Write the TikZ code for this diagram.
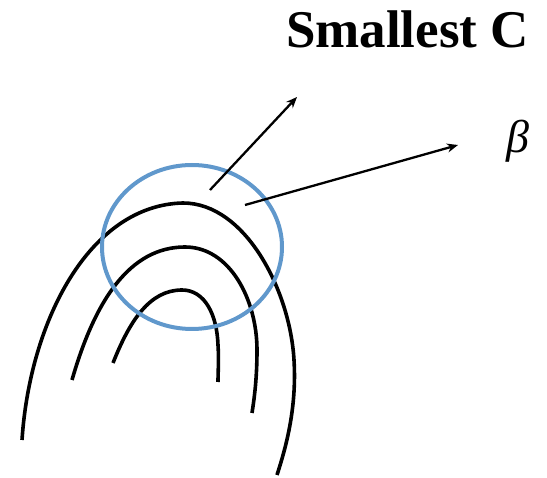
\documentclass[tikz,border=0pt]{standalone}
\usepackage{fontspec}
\setmainfont{Liberation Serif}
\usetikzlibrary{arrows.meta,shapes.geometric}
\definecolor{cblue}{RGB}{96,152,204}
\begin{document}
\begin{tikzpicture}[x=1pt,y=-1pt,
  arc/.style={line width=3.6pt,line cap=butt},
  vec/.style={line width=2.3pt,-{Stealth[length=11pt,width=9pt]}}]
\useasboundingbox (0,0) rectangle (547,478);
\draw[arc] (22,440) .. controls (30,320) and (90,205) .. (183,203)
  .. controls (245,203) and (290,290) .. (294,360)
  .. controls (297,410) and (285,450) .. (277,475);
\draw[arc] (72,380) .. controls (95,300) and (130,247) .. (185,247)
  .. controls (230,247) and (257,300) .. (257,350)
  .. controls (257,380) and (254,400) .. (252,413);
\draw[arc] (113,363) .. controls (130,320) and (150,290) .. (182,290)
  .. controls (205,290) and (217,315) .. (218,345)
  .. controls (219,360) and (218,372) .. (218,382);
\node[draw=cblue,line width=4pt,ellipse,minimum width=180pt,minimum height=164pt,inner sep=0pt] (c) at (192,247) {};
\coordinate (a1) at (210,190);
\coordinate (b1) at (297,97);
\coordinate (a2) at (245,205);
\coordinate (b2) at (458,145);
\draw[vec] (a1) -- (b1);
\draw[vec] (a2) -- (b2);
\node[font=\fontsize{46}{52}\selectfont\itshape,inner sep=0pt] (beta) at (518,141) {β};
\node[font=\fontsize{53}{60}\selectfont\bfseries,inner sep=0pt,anchor=base] (title) at (407.5,48) {Smallest C};
\end{tikzpicture}
\end{document}
